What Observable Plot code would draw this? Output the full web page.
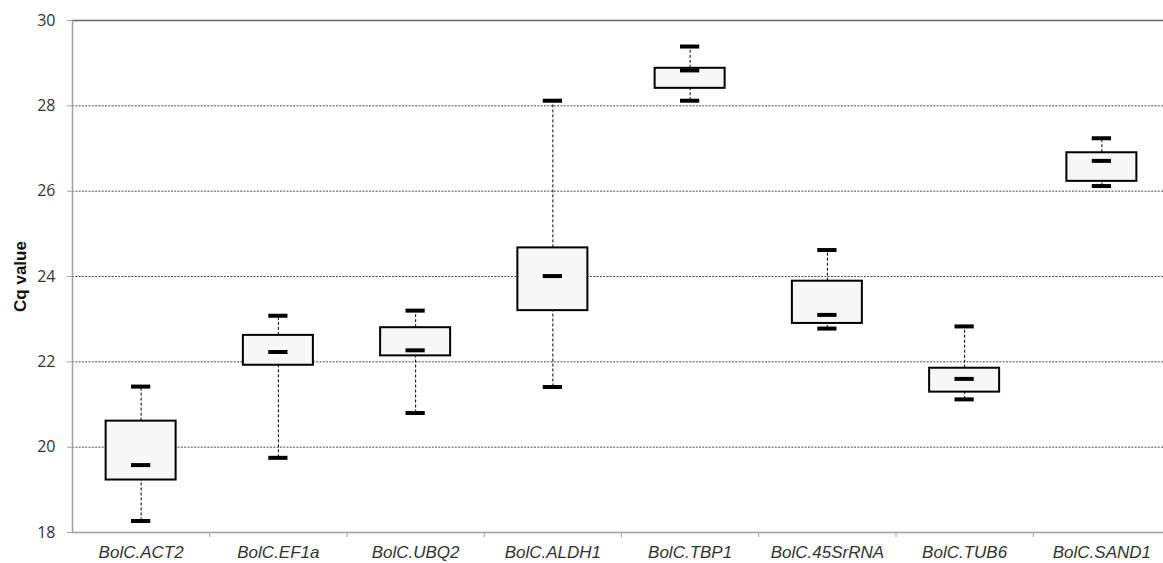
<!DOCTYPE html>
<html>
<head>
<meta charset="utf-8">
<script src="https://cdn.jsdelivr.net/npm/d3@7"></script>
<script src="https://cdn.jsdelivr.net/npm/@observablehq/plot@0.6"></script>
<style>
  html, body { margin: 0; padding: 0; background: #ffffff; overflow: hidden; }
  #chart svg { display: block; }
</style>
</head>
<body>
<div id="chart"></div>
<script>
// Reference genes and their Cq value distributions
const genes = ["BolC.ACT2", "BolC.EF1a", "BolC.UBQ2", "BolC.ALDH1", "BolC.TBP1", "BolC.45SrRNA", "BolC.TUB6", "BolC.SAND1"];
const whiskerLow  = [18.27, 19.75, 20.80, 21.41, 28.12, 22.78, 21.12, 26.12];
const quartile1   = [19.23, 21.92, 22.14, 23.20, 28.41, 22.90, 21.29, 26.23];
const medians     = [19.58, 22.23, 22.27, 24.01, 28.83, 23.10, 21.60, 26.71];
const quartile3   = [20.61, 22.62, 22.80, 24.67, 28.88, 23.89, 21.85, 26.90];
const whiskerHigh = [21.42, 23.08, 23.20, 28.12, 29.39, 24.62, 22.83, 27.24];
const yTicks = [18, 20, 22, 24, 26, 28, 30];
const gridValues = [20, 22, 24, 26, 28];
const yLabel = "Cq value";

const rows = genes.map((gene, i) => ({
  gene, i,
  lo: whiskerLow[i], q1: quartile1[i], med: medians[i], q3: quartile3[i], hi: whiskerHigh[i]
}));

// category slots: gene i occupies [i, i+1] on the x scale
const boundaries = d3.range(1, genes.length);
const centers = genes.map((_, i) => i + 0.5);
const boxHalf = 0.255;
const capHalf = 0.07;

const chart = Plot.plot({
  width: 1163,
  height: 563,
  marginLeft: 72,
  marginTop: 20,
  marginBottom: 31,
  marginRight: 0,
  style: { background: "#ffffff", fontFamily: "Liberation Sans, Arial, sans-serif" },
  x: { type: "linear", domain: [0, genes.length], range: [72, 1170] },
  y: { domain: [18, 30] },
  marks: [
    // dotted horizontal gridlines
    Plot.ruleY(gridValues, { stroke: "#4a4a4a", strokeWidth: 1, strokeDasharray: "2,1.3" }),
    // plot area top line and axis lines
    Plot.ruleY([30], { stroke: "#666666", strokeWidth: 1.5 }),
    Plot.ruleY([18], { stroke: "#a0a0a0", strokeWidth: 1.5 }),
    Plot.ruleX([0], { y1: 18, y2: 30, stroke: "#a0a0a0", strokeWidth: 1.5 }),
    // y axis
    Plot.axisY(yTicks, {
      tickSize: 5, tickPadding: 12, stroke: "#a0a0a0",
      fontSize: 16, fontFamily: "Open Sans, Lato, sans-serif", fill: "#333333",
      label: null
    }),
    // category boundary ticks along the bottom
    Plot.axisX(boundaries, { tickSize: 5, stroke: "#a0a0a0", tickFormat: () => "", label: null }),
    // category names
    Plot.axisX(centers, {
      tickSize: 0, tickPadding: 13, label: null,
      tickFormat: d => genes[Math.floor(d)],
      fontSize: 17, fontStyle: "italic", fill: "#333333",
      fontFamily: "Liberation Sans, Arial, sans-serif"
    }),
    // y axis title, centred on the plot height
    Plot.text([yLabel], {
      frameAnchor: "left", textAnchor: "middle", rotate: -90, dx: -52,
      fontSize: 17, fontWeight: "bold", fill: "#111111",
      fontFamily: "Liberation Sans, Arial, sans-serif"
    }),
    // interquartile boxes
    Plot.rect(rows, {
      x1: d => d.i + 0.5 - boxHalf, x2: d => d.i + 0.5 + boxHalf,
      y1: "q1", y2: "q3",
      fill: "#f7f7f7", stroke: "#000000", strokeWidth: 2
    }),
    // dashed whiskers
    Plot.ruleX(rows, { x: d => d.i + 0.5, y1: "q3", y2: "hi", stroke: "#000000", strokeWidth: 1, strokeDasharray: "3,2" }),
    Plot.ruleX(rows, { x: d => d.i + 0.5, y1: "lo", y2: "q1", stroke: "#000000", strokeWidth: 1, strokeDasharray: "3,2" }),
    // whisker caps and medians
    Plot.ruleY(rows, { y: "hi", x1: d => d.i + 0.5 - capHalf, x2: d => d.i + 0.5 + capHalf, stroke: "#000000", strokeWidth: 4 }),
    Plot.ruleY(rows, { y: "lo", x1: d => d.i + 0.5 - capHalf, x2: d => d.i + 0.5 + capHalf, stroke: "#000000", strokeWidth: 4 }),
    Plot.ruleY(rows, { y: "med", x1: d => d.i + 0.5 - capHalf, x2: d => d.i + 0.5 + capHalf, stroke: "#000000", strokeWidth: 4 })
  ]
});

document.getElementById("chart").appendChild(chart);
</script>
</body>
</html>
